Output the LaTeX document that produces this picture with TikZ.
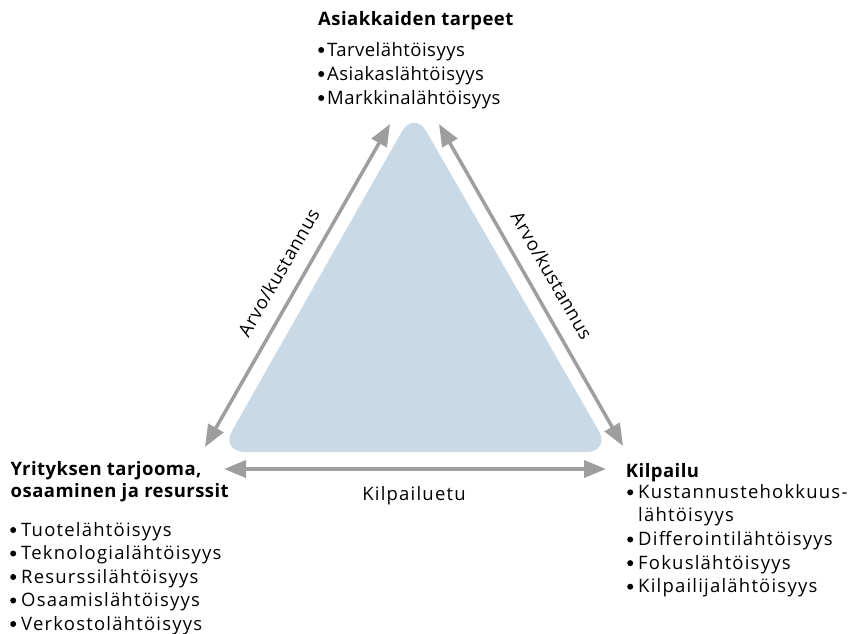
\documentclass[tikz,border=0pt]{standalone}
\usepackage{fontspec}
\setmainfont{Open Sans}[LetterSpace=6.5, BoldFeatures={LetterSpace=2.5}]
\newfontfamily\tightfont{Open Sans}[LetterSpace=2.5, BoldFeatures={LetterSpace=2.5}]
\newfontfamily\labelfont{Open Sans}[LetterSpace=3]
\usetikzlibrary{arrows.meta}
\definecolor{trifill}{RGB}{201,218,230}
\definecolor{arrowgray}{RGB}{158,158,158}
% round list bullet followed by the gap before the item text
\newcommand\itemdot[1][5pt]{\tikz[baseline=0pt]\fill (0,6pt) circle (3pt);\hspace{#1}}
\begin{document}
\begin{tikzpicture}[x=1pt,y=-1pt,
  txt/.style={inner sep=0pt, anchor=base west, font=\fontsize{18.5}{23.6}\selectfont},
  head/.style={txt, font=\fontsize{18.5}{23}\selectfont\bfseries},
  toptxt/.style={txt, font=\fontsize{18.5}{23.6}\selectfont\tightfont},
  tophead/.style={txt, font=\fontsize{18.5}{23}\selectfont\tightfont\bfseries},
  link/.style={draw=arrowgray, line width=3.5pt,
    >={Triangle[length=22pt,width=17pt]}, <->},
  lbl/.style={inner sep=0pt, font=\fontsize{18.5}{22}\selectfont\labelfont}]
\useasboundingbox (0,0) rectangle (848,633);

% central triangle
\fill[trifill, rounded corners=25pt]
  (415.5,452) -- (611,452) -- (414,110) -- (220,452) -- cycle;

% customer needs (top)
\node[tophead] (needsH) at (318,25) {Asiakkaiden tarpeet};
\node[toptxt] (needs1) at (318,56) {\itemdot[3pt]Tarvelähtöisyys};
\node[toptxt] (needs2) at (318,80) {\itemdot[3pt]Asiakaslähtöisyys};
\node[toptxt] (needs3) at (318,104) {\itemdot[3pt]Markkinalähtöisyys};

% company offering (bottom left)
\node[head] (offerH1) at (10.5,475) {Yrityksen tarjooma,};
\node[head] (offerH2) at (10.5,497.5) {osaaminen ja resurssit};
\node[txt] (offer1) at (10,536) {\itemdot Tuotelähtöisyys};
\node[txt] (offer2) at (10,559.5) {\itemdot Teknologialähtöisyys};
\node[txt] (offer3) at (10,583) {\itemdot Resurssilähtöisyys};
\node[txt] (offer4) at (10,606.5) {\itemdot Osaamislähtöisyys};
\node[txt] (offer5) at (10,630) {\itemdot Verkostolähtöisyys};

% competition (bottom right)
\node[head] (compH) at (625.7,477.7) {Kilpailu};
\node[txt] (comp1) at (627,498.3) {\itemdot Kustannustehokkuus-};
\node[txt] (comp1b) at (627,521.9) {\hspace*{11pt}lähtöisyys};
\node[txt] (comp2) at (627,545.5) {\itemdot Differointilähtöisyys};
\node[txt] (comp3) at (627,569.1) {\itemdot Fokuslähtöisyys};
\node[txt] (comp4) at (627,592.7) {\itemdot Kilpailijalähtöisyys};

% arrow ends
\coordinate (lTop) at (390,124);
\coordinate (lBot) at (205,447);
\coordinate (rTop) at (439,124);
\coordinate (rBot) at (623,446);
\coordinate (bL) at (224,469);
\coordinate (bR) at (606,469);

% connectors
\draw[link] (lBot) -- (lTop);
\draw[link] (rTop) -- (rBot);
\draw[link] (bL) -- (bR);

% connector labels
\node[lbl, rotate=60] (valueL) at (278.5,272.5) {Arvo/kustannus};
\node[lbl, rotate=-60] (valueR) at (552,275.5) {Arvo/kustannus};
\node[txt, anchor=base] (edge) at (414,500.5) {Kilpailuetu};
\end{tikzpicture}
\end{document}
